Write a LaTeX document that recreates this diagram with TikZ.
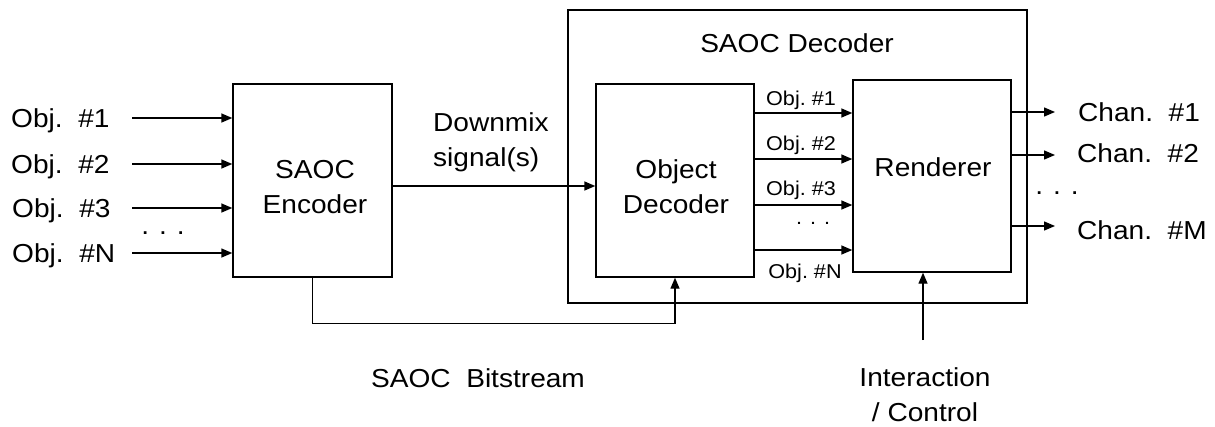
\documentclass[tikz,border=0pt]{standalone}
\usepackage{fontspec}
\setmainfont{Liberation Sans}[FakeStretch=1.08]
\usetikzlibrary{arrows.meta}
\begin{document}
\begin{tikzpicture}[x=1pt,y=-1pt,
  box/.style={draw, line width=1.4pt, inner sep=0pt},
  conn/.style={line width=1.4pt},
  arr/.style={conn, -{Triangle[length=11pt,width=9pt]}},
  big/.style={font=\fontsize{26}{35}\selectfont, inner sep=0pt},
  small/.style={font=\fontsize{20}{24}\selectfont, inner sep=0pt},
]
\useasboundingbox (0,0) rectangle (1215,426);

% boxes
\node[box, minimum width=459pt, minimum height=293pt] (dec) at (797.5,156.5) {};
\node[box, minimum width=159pt, minimum height=193pt] (enc) at (312.5,180.5) {};
\node[box, minimum width=158pt, minimum height=193pt] (obj) at (675,180.5) {};
\node[box, minimum width=158pt, minimum height=192pt] (ren) at (932,176) {};

% box texts
\node[big, anchor=base] (dectext) at (797,52) {SAOC Decoder};
\node[big, anchor=north, align=center] (enctext) at (315,160) {SAOC\\Encoder};
\node[big, anchor=north, align=center] (objtext) at (676,159) {Object\\Decoder};
\node[big, anchor=base] (rentext) at (933,176) {Renderer};

% inputs
\node[big, anchor=base west] (o1) at (11,127) {Obj.\ \ \#1};
\node[big, anchor=base west] (o2) at (11,173) {Obj.\ \ \#2};
\node[big, anchor=base west] (o3) at (12,217) {Obj.\ \ \#3};
\node[big, anchor=base west] (oN) at (12,262) {Obj.\ \ \#N};
\node[big, anchor=base] (idots) at (163,234) {.\hspace{10pt}.\hspace{10pt}.};
\coordinate (i1) at (132,118);
\coordinate (i2) at (132,164);
\coordinate (i3) at (132,208);
\coordinate (iN) at (132,253);
\draw[arr] (i1) -- (enc.west |- i1);
\draw[arr] (i2) -- (enc.west |- i2);
\draw[arr] (i3) -- (enc.west |- i3);
\draw[arr] (iN) -- (enc.west |- iN);

% downmix
\coordinate (dm) at (392,186);
\draw[arr] (enc.east |- dm) -- (obj.west |- dm);
\node[big, anchor=north west, align=left] (dmtext) at (433,112) {Downmix\\signal(s)};

% object decoder -> renderer
\coordinate (s1) at (754,113);
\coordinate (s2) at (754,159);
\coordinate (s3) at (754,205);
\coordinate (sN) at (754,250);
\draw[arr] (obj.east |- s1) -- (ren.west |- s1);
\draw[arr] (obj.east |- s2) -- (ren.west |- s2);
\draw[arr] (obj.east |- s3) -- (ren.west |- s3);
\draw[arr] (obj.east |- sN) -- (ren.west |- sN);
\node[small, anchor=base] (l1) at (801,105) {Obj.\ \#1};
\node[small, anchor=base] (l2) at (801,150) {Obj.\ \#2};
\node[small, anchor=base] (l3) at (801,195) {Obj.\ \#3};
\node[small, anchor=base] (ldots) at (813,224) {.\hspace{8pt}.\hspace{8pt}.};
\node[small, anchor=base] (lN) at (805,278) {Obj.\ \#N};

% outputs
\coordinate (c1) at (1055,112);
\coordinate (c2) at (1055,155);
\coordinate (cM) at (1055,226);
\draw[arr] (ren.east |- c1) -- (c1);
\draw[arr] (ren.east |- c2) -- (c2);
\draw[arr] (ren.east |- cM) -- (cM);
\node[big, anchor=base west] (ch1) at (1078,121) {Chan.\ \ \#1};
\node[big, anchor=base west] (ch2) at (1077,162) {Chan.\ \ \#2};
\node[big, anchor=base west] (chM) at (1077,239) {Chan.\ \ \#M};
\node[big, anchor=base] (cdots) at (1057,194) {.\hspace{10pt}.\hspace{10pt}.};

% bitstream
\draw[arr] (enc.south) -- ++(0,46) -| (obj.south);
\node[big, anchor=base] (bs) at (478,387) {SAOC\ \ Bitstream};

% interaction
\coordinate (ia) at (923,340);
\draw[arr] (ia) -- (ren.south -| ia);
\node[big, anchor=north, align=center] (iatext) at (925,367) {Interaction\\/ Control};
\end{tikzpicture}
\end{document}
